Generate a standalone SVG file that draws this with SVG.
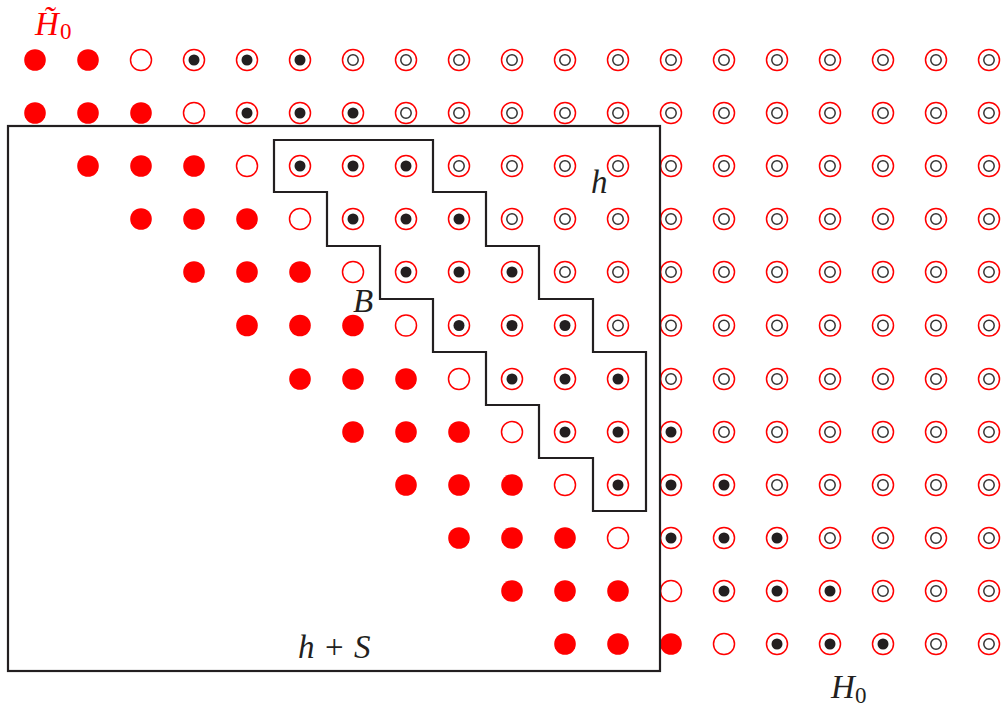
<svg xmlns="http://www.w3.org/2000/svg" xmlns:xlink="http://www.w3.org/1999/xlink" width="1003" height="710" viewBox="0 0 1003 710">
<style>
.ring{fill:#fff;stroke:#f00;stroke-width:1.5}
.fill{fill:#f00}
.dot{fill:#231f20}
.inner{fill:none;stroke:#333;stroke-width:1.5}
.frame{fill:none;stroke:#231f20;stroke-width:2.2}
.lbl{font-family:"Liberation Serif",serif;font-style:italic;font-size:33px;fill:#231f20}
.sub{font-family:"Liberation Serif",serif;font-style:normal;font-size:23px}
</style>
<defs>
<g id="F"><circle r="10.8" class="fill"/></g>
<g id="O"><circle r="10.5" class="ring"/></g>
<g id="D"><circle r="10.5" class="ring"/><circle r="5.5" class="dot"/></g>
<g id="W"><circle r="10.5" class="ring"/><circle r="5.2" class="inner"/></g>
</defs>
<rect width="1003" height="710" fill="#fff"/>
<g id="nodes">
<g id="row0" transform="translate(0,60)">
<use id="p0_0" href="#F" x="35"/><use id="p0_1" href="#F" x="88"/><use id="p0_2" href="#O" x="141"/><use id="p0_3" href="#D" x="194"/><use id="p0_4" href="#D" x="247"/><use id="p0_5" href="#D" x="300"/><use id="p0_6" href="#W" x="353"/><use id="p0_7" href="#W" x="406"/><use id="p0_8" href="#W" x="459"/><use id="p0_9" href="#W" x="512"/><use id="p0_10" href="#W" x="565"/><use id="p0_11" href="#W" x="618"/><use id="p0_12" href="#W" x="671"/><use id="p0_13" href="#W" x="724"/><use id="p0_14" href="#W" x="777"/><use id="p0_15" href="#W" x="830"/><use id="p0_16" href="#W" x="883"/><use id="p0_17" href="#W" x="936"/><use id="p0_18" href="#W" x="989"/>
</g>
<g id="row1" transform="translate(0,113)">
<use id="p1_0" href="#F" x="35"/><use id="p1_1" href="#F" x="88"/><use id="p1_2" href="#F" x="141"/><use id="p1_3" href="#O" x="194"/><use id="p1_4" href="#D" x="247"/><use id="p1_5" href="#D" x="300"/><use id="p1_6" href="#D" x="353"/><use id="p1_7" href="#W" x="406"/><use id="p1_8" href="#W" x="459"/><use id="p1_9" href="#W" x="512"/><use id="p1_10" href="#W" x="565"/><use id="p1_11" href="#W" x="618"/><use id="p1_12" href="#W" x="671"/><use id="p1_13" href="#W" x="724"/><use id="p1_14" href="#W" x="777"/><use id="p1_15" href="#W" x="830"/><use id="p1_16" href="#W" x="883"/><use id="p1_17" href="#W" x="936"/><use id="p1_18" href="#W" x="989"/>
</g>
<g id="row2" transform="translate(0,166)">
<use id="p2_1" href="#F" x="88"/><use id="p2_2" href="#F" x="141"/><use id="p2_3" href="#F" x="194"/><use id="p2_4" href="#O" x="247"/><use id="p2_5" href="#D" x="300"/><use id="p2_6" href="#D" x="353"/><use id="p2_7" href="#D" x="406"/><use id="p2_8" href="#W" x="459"/><use id="p2_9" href="#W" x="512"/><use id="p2_10" href="#W" x="565"/><use id="p2_11" href="#W" x="618"/><use id="p2_12" href="#W" x="671"/><use id="p2_13" href="#W" x="724"/><use id="p2_14" href="#W" x="777"/><use id="p2_15" href="#W" x="830"/><use id="p2_16" href="#W" x="883"/><use id="p2_17" href="#W" x="936"/><use id="p2_18" href="#W" x="989"/>
</g>
<g id="row3" transform="translate(0,219)">
<use id="p3_2" href="#F" x="141"/><use id="p3_3" href="#F" x="194"/><use id="p3_4" href="#F" x="247"/><use id="p3_5" href="#O" x="300"/><use id="p3_6" href="#D" x="353"/><use id="p3_7" href="#D" x="406"/><use id="p3_8" href="#D" x="459"/><use id="p3_9" href="#W" x="512"/><use id="p3_10" href="#W" x="565"/><use id="p3_11" href="#W" x="618"/><use id="p3_12" href="#W" x="671"/><use id="p3_13" href="#W" x="724"/><use id="p3_14" href="#W" x="777"/><use id="p3_15" href="#W" x="830"/><use id="p3_16" href="#W" x="883"/><use id="p3_17" href="#W" x="936"/><use id="p3_18" href="#W" x="989"/>
</g>
<g id="row4" transform="translate(0,272)">
<use id="p4_3" href="#F" x="194"/><use id="p4_4" href="#F" x="247"/><use id="p4_5" href="#F" x="300"/><use id="p4_6" href="#O" x="353"/><use id="p4_7" href="#D" x="406"/><use id="p4_8" href="#D" x="459"/><use id="p4_9" href="#D" x="512"/><use id="p4_10" href="#W" x="565"/><use id="p4_11" href="#W" x="618"/><use id="p4_12" href="#W" x="671"/><use id="p4_13" href="#W" x="724"/><use id="p4_14" href="#W" x="777"/><use id="p4_15" href="#W" x="830"/><use id="p4_16" href="#W" x="883"/><use id="p4_17" href="#W" x="936"/><use id="p4_18" href="#W" x="989"/>
</g>
<g id="row5" transform="translate(0,325.5)">
<use id="p5_4" href="#F" x="247"/><use id="p5_5" href="#F" x="300"/><use id="p5_6" href="#F" x="353"/><use id="p5_7" href="#O" x="406"/><use id="p5_8" href="#D" x="459"/><use id="p5_9" href="#D" x="512"/><use id="p5_10" href="#D" x="565"/><use id="p5_11" href="#W" x="618"/><use id="p5_12" href="#W" x="671"/><use id="p5_13" href="#W" x="724"/><use id="p5_14" href="#W" x="777"/><use id="p5_15" href="#W" x="830"/><use id="p5_16" href="#W" x="883"/><use id="p5_17" href="#W" x="936"/><use id="p5_18" href="#W" x="989"/>
</g>
<g id="row6" transform="translate(0,379)">
<use id="p6_5" href="#F" x="300"/><use id="p6_6" href="#F" x="353"/><use id="p6_7" href="#F" x="406"/><use id="p6_8" href="#O" x="459"/><use id="p6_9" href="#D" x="512"/><use id="p6_10" href="#D" x="565"/><use id="p6_11" href="#D" x="618"/><use id="p6_12" href="#W" x="671"/><use id="p6_13" href="#W" x="724"/><use id="p6_14" href="#W" x="777"/><use id="p6_15" href="#W" x="830"/><use id="p6_16" href="#W" x="883"/><use id="p6_17" href="#W" x="936"/><use id="p6_18" href="#W" x="989"/>
</g>
<g id="row7" transform="translate(0,432)">
<use id="p7_6" href="#F" x="353"/><use id="p7_7" href="#F" x="406"/><use id="p7_8" href="#F" x="459"/><use id="p7_9" href="#O" x="512"/><use id="p7_10" href="#D" x="565"/><use id="p7_11" href="#D" x="618"/><use id="p7_12" href="#D" x="671"/><use id="p7_13" href="#W" x="724"/><use id="p7_14" href="#W" x="777"/><use id="p7_15" href="#W" x="830"/><use id="p7_16" href="#W" x="883"/><use id="p7_17" href="#W" x="936"/><use id="p7_18" href="#W" x="989"/>
</g>
<g id="row8" transform="translate(0,485)">
<use id="p8_7" href="#F" x="406"/><use id="p8_8" href="#F" x="459"/><use id="p8_9" href="#F" x="512"/><use id="p8_10" href="#O" x="565"/><use id="p8_11" href="#D" x="618"/><use id="p8_12" href="#D" x="671"/><use id="p8_13" href="#D" x="724"/><use id="p8_14" href="#W" x="777"/><use id="p8_15" href="#W" x="830"/><use id="p8_16" href="#W" x="883"/><use id="p8_17" href="#W" x="936"/><use id="p8_18" href="#W" x="989"/>
</g>
<g id="row9" transform="translate(0,538)">
<use id="p9_8" href="#F" x="459"/><use id="p9_9" href="#F" x="512"/><use id="p9_10" href="#F" x="565"/><use id="p9_11" href="#O" x="618"/><use id="p9_12" href="#D" x="671"/><use id="p9_13" href="#D" x="724"/><use id="p9_14" href="#D" x="777"/><use id="p9_15" href="#W" x="830"/><use id="p9_16" href="#W" x="883"/><use id="p9_17" href="#W" x="936"/><use id="p9_18" href="#W" x="989"/>
</g>
<g id="row10" transform="translate(0,591)">
<use id="p10_9" href="#F" x="512"/><use id="p10_10" href="#F" x="565"/><use id="p10_11" href="#F" x="618"/><use id="p10_12" href="#O" x="671"/><use id="p10_13" href="#D" x="724"/><use id="p10_14" href="#D" x="777"/><use id="p10_15" href="#D" x="830"/><use id="p10_16" href="#W" x="883"/><use id="p10_17" href="#W" x="936"/><use id="p10_18" href="#W" x="989"/>
</g>
<g id="row11" transform="translate(0,644)">
<use id="p11_10" href="#F" x="565"/><use id="p11_11" href="#F" x="618"/><use id="p11_12" href="#F" x="671"/><use id="p11_13" href="#O" x="724"/><use id="p11_14" href="#D" x="777"/><use id="p11_15" href="#D" x="830"/><use id="p11_16" href="#D" x="883"/><use id="p11_17" href="#W" x="936"/><use id="p11_18" href="#W" x="989"/>
</g>
</g>
<g id="regions">
<rect id="hS" class="frame" x="8" y="126" width="652" height="545"/>
<path id="B" class="frame" d="M274,140 H433 V192 H486 V246 H539 V299 H593 V352 H646 V511 H593 V458 H539 V405 H486 V352 H433 V299 H380 V246 H327 V192 H274 Z"/>
</g>
<g id="labels">
<text class="lbl" x="591" y="193">h</text>
<text class="lbl" x="353" y="312">B</text>
<text class="lbl" y="658"><tspan x="298">h</tspan><tspan x="325" font-style="normal">+</tspan><tspan x="354">S</tspan></text>
<text class="lbl" x="831" y="698">H<tspan class="sub" x="855" y="703">0</tspan></text>
<text class="lbl" x="35" y="35" style="fill:#f00">H&#x303;<tspan class="sub" x="60" y="39">0</tspan></text>
</g>
</svg>
